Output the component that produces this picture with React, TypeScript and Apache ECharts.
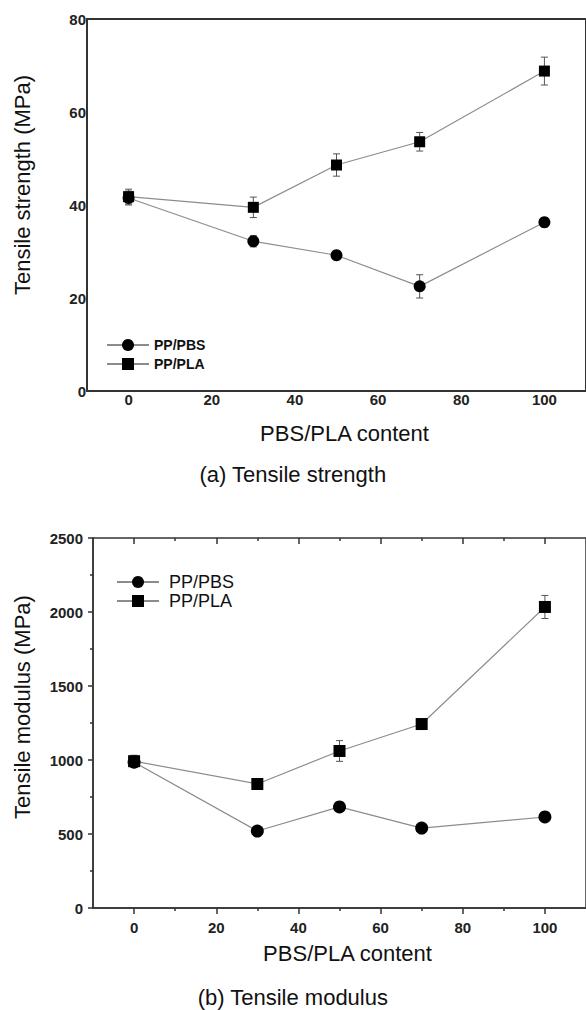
import React, { useEffect, useRef } from "react";
import * as echarts from "echarts";

const xContent = [0, 30, 50, 70, 100];
const xMajorTicks = [0, 20, 40, 60, 80, 100];
const xMinorTicks = [10, 30, 50, 70, 90];

// (a) Tensile strength (MPa)
const strengthPBS = [41.5, 32.2, 29.2, 22.5, 36.3];
const strengthPBSErr = [1.5, 1.2, 0.8, 2.5, 1.0];
const strengthPLA = [41.8, 39.5, 48.6, 53.6, 68.8];
const strengthPLAErr = [1.6, 2.2, 2.4, 2.0, 3.0];

// (b) Tensile modulus (MPa)
const modulusPBS = [985, 520, 683, 540, 615];
const modulusPBSErr = [30, 20, 20, 20, 20];
const modulusPLA = [992, 838, 1061, 1243, 2034];
const modulusPLAErr = [40, 30, 70, 30, 78];

const seriesNames = ["PP/PBS", "PP/PLA"];

const FONT = "'Liberation Sans', Arial, sans-serif";
const LINE = "#8c8c8c";
const AXIS = "#333";

function errData(xs: number[], ys: number[], es: number[]) {
  return xs.map((x, i) => [x, ys[i] - es[i], ys[i] + es[i]]);
}

function errSeries(name: string, xi: number, yi: number, data: number[][]) {
  return {
    type: "custom",
    name: name + " error",
    xAxisIndex: xi,
    yAxisIndex: yi,
    silent: true,
    z: 1,
    data,
    encode: { x: 0, y: [1, 2] },
    renderItem: (params: any, api: any) => {
      const x = api.value(0);
      const lo = api.coord([x, api.value(1)]);
      const hi = api.coord([x, api.value(2)]);
      const cap = 3.5;
      const style = { stroke: "#555", lineWidth: 1 };
      return {
        type: "group",
        children: [
          { type: "line", shape: { x1: lo[0], y1: lo[1], x2: hi[0], y2: hi[1] }, style },
          { type: "line", shape: { x1: lo[0] - cap, y1: lo[1], x2: lo[0] + cap, y2: lo[1] }, style },
          { type: "line", shape: { x1: hi[0] - cap, y1: hi[1], x2: hi[0] + cap, y2: hi[1] }, style },
        ],
      };
    },
  };
}

function lineSeries(name: string, xi: number, yi: number, ys: number[], symbol: string, size: number) {
  return {
    type: "line",
    name,
    xAxisIndex: xi,
    yAxisIndex: yi,
    data: xContent.map((x, i) => [x, ys[i]]),
    symbol,
    symbolSize: size,
    showAllSymbol: true,
    z: 3,
    itemStyle: { color: "#000" },
    lineStyle: { color: LINE, width: 1.2 },
  };
}

export default function App() {
  const ref = useRef<HTMLDivElement>(null);
  useEffect(() => {
    if (!ref.current) return;
    const chart = echarts.init(ref.current, null, { renderer: "svg" });
    const boldLabel = { fontFamily: FONT, fontWeight: "bold", fontSize: 15, color: "#222" };
    const plain = (v: number) => String(v);
    const option: any = {
      animation: false,
      backgroundColor: "#fff",
      textStyle: { fontFamily: FONT },
      grid: [
        { left: 87, top: 19, width: 506, height: 372, show: true, borderColor: AXIS, borderWidth: 2 },
        { left: 93, top: 538, width: 505, height: 370, show: true, borderColor: AXIS, borderWidth: 1.5 },
      ],
      xAxis: [
        {
          gridIndex: 0, type: "value", min: -10, max: 110, interval: 10,
          axisLine: { show: true, onZero: false, lineStyle: { color: AXIS, width: 2 } },
          axisTick: { show: false },
          splitLine: { show: false },
          axisLabel: { ...boldLabel, margin: 1, customValues: xMajorTicks, formatter: plain },
          name: "PBS/PLA content", nameLocation: "middle", nameGap: 31,
          nameTextStyle: { fontFamily: FONT, fontSize: 22, color: "#111", padding: [0, 0, 0, 16] },
        },
        {
          gridIndex: 1, type: "value", min: -10, max: 110, interval: 10,
          axisLine: { show: true, onZero: false, lineStyle: { color: AXIS, width: 1.5 } },
          axisTick: { show: true, length: 6, customValues: xMajorTicks, lineStyle: { color: AXIS, width: 1.5 } },
          splitLine: { show: false },
          axisLabel: { ...boldLabel, margin: 12, customValues: xMajorTicks, formatter: plain },
          name: "PBS/PLA content", nameLocation: "middle", nameGap: 34,
          nameTextStyle: { fontFamily: FONT, fontSize: 22, color: "#111", padding: [0, 0, 0, 16] },
        },
        {
          gridIndex: 1, type: "value", min: -10, max: 110, interval: 10, position: "bottom",
          axisLine: { show: false, onZero: false },
          axisTick: { show: true, length: 3, customValues: xMinorTicks, lineStyle: { color: AXIS, width: 1.5 } },
          axisLabel: { show: false },
          splitLine: { show: false },
        },
        {
          gridIndex: 1, type: "value", min: -10, max: 110, interval: 10, position: "top",
          axisLine: { show: false, onZero: false },
          axisTick: { show: true, inside: true, length: 6, customValues: xMajorTicks, lineStyle: { color: AXIS, width: 1.5 } },
          axisLabel: { show: false },
          splitLine: { show: false },
        },
        {
          gridIndex: 1, type: "value", min: -10, max: 110, interval: 10, position: "top",
          axisLine: { show: false, onZero: false },
          axisTick: { show: true, inside: true, length: 3, customValues: xMinorTicks, lineStyle: { color: AXIS, width: 1.5 } },
          axisLabel: { show: false },
          splitLine: { show: false },
        },
      ],
      yAxis: [
        {
          gridIndex: 0, type: "value", min: 0, max: 80, interval: 20,
          axisLine: { show: true, onZero: false, lineStyle: { color: AXIS, width: 2 } },
          axisTick: { show: false },
          splitLine: { show: false },
          axisLabel: { ...boldLabel, margin: 1, formatter: plain },
          name: "Tensile strength (MPa)", nameLocation: "middle", nameGap: 54,
          nameTextStyle: { fontFamily: FONT, fontSize: 22, color: "#111", padding: [0, 0, 0, 40] },
        },
        {
          gridIndex: 1, type: "value", min: 0, max: 2500, interval: 500,
          axisLine: { show: true, onZero: false, lineStyle: { color: AXIS, width: 1.5 } },
          axisTick: { show: true, length: 5, lineStyle: { color: AXIS, width: 1.5 } },
          minorTick: { show: true, splitNumber: 2, length: 3, lineStyle: { color: AXIS, width: 1.5 } },
          splitLine: { show: false },
          axisLabel: { ...boldLabel, margin: 10, formatter: plain },
          name: "Tensile modulus (MPa)", nameLocation: "middle", nameGap: 60,
          nameTextStyle: { fontFamily: FONT, fontSize: 22, color: "#111", padding: [0, 0, 0, 32] },
        },
      ],
      legend: [
        {
          left: 106, top: 338, orient: "vertical", padding: 0, itemWidth: 42, itemHeight: 15, itemGap: 5,
          data: seriesNames,
          textStyle: { fontFamily: FONT, fontWeight: "bold", fontSize: 14, color: "#111" },
        },
        {
          left: 116, top: 573, orient: "vertical", padding: 0, itemWidth: 42, itemHeight: 15, itemGap: 1,
          data: seriesNames,
          textStyle: { fontFamily: FONT, fontSize: 18, color: "#111", padding: [0, 0, 0, 5] },
        },
      ],
      series: [
        errSeries("PP/PBS", 0, 0, errData(xContent, strengthPBS, strengthPBSErr)),
        errSeries("PP/PLA", 0, 0, errData(xContent, strengthPLA, strengthPLAErr)),
        lineSeries(seriesNames[0], 0, 0, strengthPBS, "circle", 12),
        lineSeries(seriesNames[1], 0, 0, strengthPLA, "rect", 11),
        errSeries("PP/PBS", 1, 1, errData(xContent, modulusPBS, modulusPBSErr)),
        errSeries("PP/PLA", 1, 1, errData(xContent, modulusPLA, modulusPLAErr)),
        lineSeries(seriesNames[0], 1, 1, modulusPBS, "circle", 13),
        lineSeries(seriesNames[1], 1, 1, modulusPLA, "rect", 12),
      ],
      graphic: [
        {
          type: "text", left: "center", top: 463,
          style: { text: "(a) Tensile strength", fontFamily: FONT, fontSize: 22, fill: "#111" },
        },
        {
          type: "text", left: "center", top: 986,
          style: { text: "(b) Tensile modulus", fontFamily: FONT, fontSize: 22, fill: "#111" },
        },
      ],
    };
    chart.setOption(option);
    return () => chart.dispose();
  }, []);
  return (
    <div
      ref={ref}
      style={{ position: "absolute", left: 0, top: 0, width: 586, height: 1010, overflow: "hidden" }}
    />
  );
}
